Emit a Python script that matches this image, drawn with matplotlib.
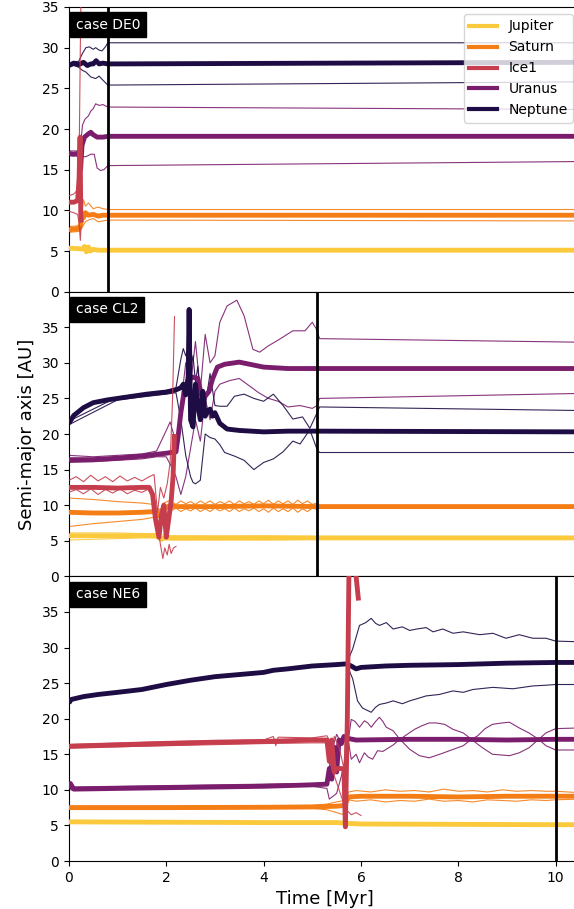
import matplotlib
matplotlib.use("Agg")
import matplotlib.pyplot as plt

# ---------------- data ----------------
planets = ["Jupiter", "Saturn", "Ice1", "Uranus", "Neptune"]
colors = ["#fbc93c", "#f57d15", "#c63d4d", "#7b1d6d", "#1e0c45"]
cases = ["case DE0", "case CL2", "case NE6"]
t_end = [0.8, 5.1, 10.0]
y_top = [35, 40, 40]
T_MAX = 10.5

# case DE0 : semi-major axis (a), aphelion (Q), perihelion (q)
de0_jup_t = [0, 0.15, 0.28, 0.32, 0.36, 0.40, 0.44, 0.5, 0.6, 0.8, 10.5]
de0_jup_a = [5.35, 5.3, 5.25, 5.55, 4.9, 5.5, 5.0, 5.2, 5.1, 5.1, 5.1]

de0_sat_t = [0, 0.12, 0.2, 0.24, 0.27, 0.3, 0.34, 0.4, 0.5, 0.6, 0.7, 0.8, 10.5]
de0_sat_a = [7.6, 7.7, 7.8, 8.2, 9.6, 9.1, 9.7, 9.4, 9.5, 9.3, 9.4, 9.4, 9.4]
de0_sat_tq = [0, 0.2, 0.25, 0.3, 0.34, 0.4, 0.5, 0.6, 0.7, 0.8, 10.5]
de0_sat_Q = [8.0, 8.1, 9.0, 11.3, 10.5, 10.9, 10.2, 10.4, 10.2, 10.1, 10.1]
de0_sat_q = [7.3, 7.4, 7.6, 8.2, 8.6, 8.8, 9.0, 8.6, 8.7, 8.8, 8.7]

de0_ice_t = [0, 0.1, 0.18, 0.21, 0.23, 0.245, 0.26]
de0_ice_a = [11.0, 11.0, 11.2, 14.0, 19.0, 9.0, 8.5]
de0_ice_tq = [0, 0.1, 0.18, 0.21, 0.235, 0.25]
de0_ice_Q = [11.8, 12.0, 12.5, 16.0, 30.0, 37.0]
de0_ice_q = [9.9, 9.7, 9.5, 8.5, 6.3, 8.0]

de0_ura_t = [0, 0.1, 0.18, 0.22, 0.24, 0.27, 0.32, 0.4, 0.45, 0.5, 0.58, 0.7, 0.8, 10.5]
de0_ura_a = [17.0, 16.9, 17.0, 16.5, 15.0, 18.0, 19.0, 19.4, 19.6, 19.3, 19.0, 19.0, 19.1, 19.1]
de0_ura_tQ = [0, 0.18, 0.24, 0.28, 0.33, 0.4, 0.45, 0.5, 0.55, 0.62, 0.7, 0.8, 10.5]
de0_ura_Q = [17.3, 17.3, 18.0, 20.5, 21.2, 21.6, 22.2, 22.5, 23.1, 22.9, 23.0, 22.7, 22.4]
de0_ura_tq = [0, 0.18, 0.24, 0.28, 0.35, 0.45, 0.52, 0.58, 0.65, 0.72, 0.8, 10.5]
de0_ura_q = [16.7, 16.7, 16.0, 16.6, 16.6, 16.9, 16.9, 15.2, 14.9, 15.0, 15.5, 16.0]

de0_nep_t = [0, 0.1, 0.2, 0.3, 0.38, 0.45, 0.5, 0.56, 0.62, 0.7, 0.8, 10.5]
de0_nep_a = [27.8, 28.1, 27.9, 28.2, 27.8, 28.0, 28.0, 28.4, 28.0, 28.1, 28.0, 28.2]
de0_nep_tQ = [0, 0.1, 0.2, 0.28, 0.35, 0.42, 0.5, 0.55, 0.62, 0.68, 0.75, 0.8, 10.5]
de0_nep_Q = [28.0, 28.3, 28.3, 29.3, 30.0, 30.1, 29.8, 30.0, 29.7, 29.6, 30.1, 30.6, 30.6]
de0_nep_tq = [0, 0.1, 0.2, 0.28, 0.35, 0.45, 0.55, 0.62, 0.7, 0.8, 10.5]
de0_nep_q = [27.7, 27.8, 27.6, 27.2, 27.0, 26.4, 26.2, 26.5, 26.0, 25.4, 25.8]

# case CL2
cl2_jup_t = [0, 0.5, 1.0, 1.5, 1.8, 1.9, 2.0, 2.1, 2.5, 3, 4, 5.1, 10.5]
cl2_jup_a = [5.7, 5.7, 5.7, 5.75, 5.7, 5.2, 5.5, 5.4, 5.4, 5.35, 5.4, 5.4, 5.4]
cl2_jup_tq = [0, 0.5, 1.0, 1.5, 1.8, 2.0, 2.5, 3, 4, 5.1, 10.5]
cl2_jup_Q = [6.1, 6.1, 6.1, 6.0, 6.0, 5.7, 5.7, 5.7, 5.7, 5.6, 5.5]
cl2_jup_q = [5.1, 5.2, 5.3, 5.4, 5.4, 5.1, 5.1, 5.2, 5.1, 5.2, 5.3]

cl2_sat_t = [0, 0.5, 1.0, 1.5, 1.75, 1.85, 1.95, 2.05, 2.2, 3, 4, 5.1, 10.5]
cl2_sat_a = [9.0, 8.9, 8.9, 9.0, 9.1, 8.5, 9.4, 9.9, 9.8, 9.8, 9.9, 9.8, 9.8]
cl2_sat_tq = [0, 0.5, 1.0, 1.5, 1.75, 1.85, 1.95, 2.05,
              2.1, 2.2, 2.3, 2.4, 2.5, 2.6, 2.7, 2.8, 2.9, 3.0, 3.1, 3.2, 3.3,
              3.4, 3.5, 3.6, 3.7, 3.8, 3.9, 4.0, 4.1, 4.2, 4.3, 4.4, 4.5, 4.6,
              4.7, 4.8, 4.9, 5.0, 5.1, 5.15, 10.5]
cl2_sat_Q = [11.0, 10.8, 10.5, 10.3, 10.1, 9.0, 10.3, 10.6,
             10.5, 10.1, 10.6, 10.2, 10.5, 10.1, 10.6, 10.2, 10.6, 10.1, 10.5, 10.2, 10.6,
             10.1, 10.6, 10.2, 10.5, 10.1, 10.6, 10.2, 10.7, 10.1, 10.6, 10.2, 10.6, 10.1,
             10.7, 10.2, 10.6, 10.1, 10.3, 9.9, 9.9]
cl2_sat_q = [7.0, 7.4, 7.7, 8.0, 8.3, 9.5, 8.6, 9.2,
             9.2, 9.6, 9.1, 9.5, 9.2, 9.6, 9.1, 9.5, 9.1, 9.6, 9.2, 9.5, 9.1,
             9.6, 9.1, 9.5, 9.2, 9.6, 9.1, 9.5, 9.0, 9.6, 9.1, 9.5, 9.1, 9.6,
             9.0, 9.5, 9.1, 9.6, 9.4, 9.7, 9.7]

cl2_ice_t = [0, 0.5, 1.0, 1.5, 1.65, 1.72, 1.78, 1.85, 1.9, 1.95, 2.0, 2.05, 2.1, 2.14, 2.17]
cl2_ice_a = [12.5, 12.5, 12.4, 12.5, 12.5, 11.5, 8.0, 5.5, 8.5, 10.0, 5.5, 8.0, 10.5, 14.0, 20.0]
cl2_ice_tQ = [0, 0.15, 0.3, 0.45, 0.6, 0.75, 0.9, 1.05, 1.2, 1.35, 1.5, 1.65, 1.75,
              1.82, 1.88, 1.95, 2.02, 2.08, 2.13, 2.17]
cl2_ice_Q = [13.5, 14.0, 13.3, 14.2, 13.4, 14.0, 13.3, 14.1, 13.4, 13.9, 13.4, 14.0, 14.3,
             9.0, 12.5, 11.0, 13.0, 16.0, 25.0, 36.5]
cl2_ice_tq = [0, 0.15, 0.3, 0.45, 0.6, 0.75, 0.9, 1.05, 1.2, 1.35, 1.5, 1.65, 1.75,
              1.82, 1.88, 1.93, 1.97, 2.02, 2.06, 2.1, 2.15, 2.2]
cl2_ice_q = [11.8, 12.2, 11.6, 12.3, 11.5, 12.2, 11.7, 12.3, 11.6, 12.1, 11.8, 12.3, 11.0,
             7.0, 4.5, 2.5, 4.0, 3.0, 4.5, 3.2, 4.0, 4.2]

cl2_ura_t = [0, 0.5, 1.0, 1.5, 2.0, 2.2, 2.25, 2.3, 2.38, 2.45, 2.55, 2.65, 2.72, 2.8,
             2.88, 2.95, 3.05, 3.2, 3.5, 4.0, 4.5, 5.1, 10.5]
cl2_ura_a = [16.4, 16.4, 16.6, 16.9, 17.3, 17.5, 20.0, 23.0, 26.5, 27.5, 28.0, 27.8, 25.5,
             25.3, 26.0, 27.7, 29.4, 29.8, 30.1, 29.4, 29.2, 29.2, 29.2]
cl2_ura_tQ = [0, 0.5, 1.0, 1.5, 1.8, 2.0, 2.08, 2.15, 2.22, 2.3, 2.4, 2.5, 2.6, 2.7, 2.8,
              2.9, 3.0, 3.1, 3.25, 3.45, 3.6, 3.78, 3.92, 4.1, 4.3, 4.6, 4.85, 5.0, 5.08,
              5.15, 10.5]
cl2_ura_Q = [17.0, 16.8, 17.0, 17.2, 17.6, 20.5, 21.7, 20.0, 18.5, 24.0, 30.0, 27.0, 33.0,
             26.0, 34.0, 30.0, 31.0, 35.7, 38.0, 38.8, 36.6, 31.9, 31.5, 32.4, 33.2, 34.5,
             34.5, 35.7, 34.8, 33.4, 32.9]
cl2_ura_tq = [0, 0.5, 1.0, 1.5, 1.8, 2.0, 2.1, 2.2, 2.3, 2.4, 2.5, 2.6, 2.7, 2.8, 2.9,
              3.0, 3.1, 3.3, 3.5, 3.7, 3.9, 4.1, 4.3, 4.5, 4.75, 5.0, 5.1, 5.15, 10.5]
cl2_ura_q = [16.0, 16.1, 16.3, 16.5, 16.8, 16.8, 15.5, 14.0, 11.5, 14.0, 18.0, 22.0, 19.0,
             25.0, 22.0, 26.0, 27.0, 27.5, 27.8, 26.8, 25.8, 25.0, 24.6, 23.8, 24.0, 23.6,
             24.0, 25.0, 25.7]

cl2_nep_t = [0, 0.1, 0.3, 0.5, 0.8, 1.0, 1.3, 1.6, 2.0, 2.2, 2.3, 2.35, 2.4, 2.45, 2.47,
             2.5, 2.55, 2.6, 2.65, 2.7, 2.75, 2.8, 2.85, 2.9, 2.95, 3.0, 3.1, 3.25, 3.5,
             4.0, 4.5, 5.1, 10.5]
cl2_nep_a = [21.5, 22.6, 23.7, 24.4, 24.8, 25.0, 25.3, 25.6, 25.9, 26.2, 26.5, 27.0, 25.5,
             28.0, 37.5, 22.0, 21.0, 27.0, 24.0, 22.0, 26.0, 22.5, 23.2, 23.5, 22.5, 23.0,
             21.5, 20.7, 20.5, 20.3, 20.4, 20.4, 20.3]
cl2_nep_tQ = [0, 1.0, 2.0, 2.2, 2.3, 2.35, 2.4, 2.45, 2.5, 2.55, 2.6, 2.65, 2.7, 2.8, 2.9,
              3.0, 3.1, 3.25, 3.4, 3.6, 3.8, 4.0, 4.2, 4.4, 4.6, 4.8, 4.95, 5.1, 5.15, 10.5]
cl2_nep_Q = [21.8, 25.2, 26.1, 26.5, 30.5, 32.0, 31.0, 32.2, 29.0, 31.0, 27.3, 29.5, 25.0,
             23.9, 28.5, 24.0, 23.9, 23.9, 25.3, 25.6, 25.0, 24.6, 25.6, 24.0, 22.1, 22.4,
             20.8, 23.0, 23.8, 23.3]
cl2_nep_tq = [0, 1.0, 2.0, 2.2, 2.3, 2.4, 2.5, 2.55, 2.6, 2.7, 2.8, 2.9, 3.0, 3.1, 3.2,
              3.4, 3.6, 3.8, 3.9, 4.0, 4.2, 4.4, 4.6, 4.75, 4.95, 5.1, 5.15, 10.5]
cl2_nep_q = [21.3, 24.8, 25.6, 25.8, 22.0, 17.0, 14.0, 13.2, 13.0, 13.5, 20.0, 19.5, 19.3,
             18.5, 17.4, 16.9, 16.3, 15.0, 15.5, 16.0, 16.5, 17.5, 19.0, 18.6, 20.6, 17.8,
             17.4, 17.4]

# case NE6
ne6_jup_t = [0, 2, 4, 5.5, 5.7, 6.0, 8, 10, 10.5]
ne6_jup_a = [5.5, 5.45, 5.4, 5.4, 5.3, 5.2, 5.15, 5.1, 5.1]

ne6_sat_t = [0, 2, 4, 5.0, 5.5, 5.65, 5.75, 6.0, 7, 8, 9, 10, 10.5]
ne6_sat_a = [7.5, 7.5, 7.55, 7.6, 7.7, 7.8, 9.0, 9.1, 9.1, 9.0, 9.1, 9.1, 9.1]
ne6_sat_tq = [0, 5.0, 5.3, 5.5, 5.65, 5.75, 5.9, 6.2, 6.5, 6.8, 7.1, 7.4, 7.7, 8.0, 8.3,
              8.6, 8.9, 9.2, 9.5, 9.8, 10.0, 10.5]
ne6_sat_Q = [7.7, 7.8, 8.0, 8.3, 8.5, 9.7, 9.9, 9.7, 10.0, 9.8, 9.9, 9.7, 10.1, 9.8, 9.9,
             9.7, 10.0, 9.8, 9.9, 9.8, 9.8, 9.6]
ne6_sat_q = [7.3, 7.4, 7.2, 6.8, 6.5, 8.6, 8.4, 8.6, 8.3, 8.5, 8.4, 8.7, 8.4, 8.5, 8.3,
             8.6, 8.5, 8.4, 8.6, 8.5, 8.6, 8.7]

ne6_ice_t = [0, 1, 2, 3, 4, 4.5, 5.0, 5.3, 5.35, 5.4, 5.45, 5.5, 5.6, 5.65, 5.68, 5.72,
             5.76, 5.85, 5.9, 5.95]
ne6_ice_a = [16.1, 16.3, 16.5, 16.7, 16.8, 16.9, 17.0, 17.0, 14.0, 17.0, 12.5, 13.0, 13.0,
             12.8, 4.8, 20.0, 45.0, 48.0, 40.0, 36.6]
ne6_ice_tQ = [0, 2, 4, 4.2, 4.25, 4.3, 5.0, 5.3, 5.35, 5.4, 5.45, 5.55, 5.65, 5.7]
ne6_ice_Q = [16.4, 16.8, 17.0, 17.5, 16.2, 17.4, 17.3, 17.6, 17.0, 15.0, 17.5, 16.0, 13.0, 20.0]
ne6_ice_tq = [0, 2, 4, 5.0, 5.3, 5.4, 5.5, 5.6, 5.7, 5.8, 5.9, 6.0]
ne6_ice_q = [15.9, 16.2, 16.5, 16.6, 16.6, 13.0, 11.0, 9.0, 7.2, 6.5, 6.8, 6.4]

ne6_ura_t = [0, 0.03, 0.1, 1, 2, 3, 4, 5, 5.3, 5.35, 5.4, 5.45, 5.5, 5.55, 5.6, 5.65,
             5.75, 5.9, 7, 8, 9, 10, 10.5]
ne6_ura_a = [10.2, 10.9, 10.1, 10.2, 10.3, 10.4, 10.5, 10.7, 10.8, 13.0, 11.5, 16.0, 12.5,
             17.0, 16.5, 17.5, 17.2, 17.0, 17.1, 17.1, 17.0, 17.1, 17.1]
ne6_ura_tQ = [0, 5.0, 5.3, 5.4, 5.5, 5.6, 5.75, 5.80, 5.88, 5.97, 6.07, 6.14, 6.21, 6.30,
              6.38, 6.45, 6.52, 6.66, 6.80, 6.95, 7.10, 7.25, 7.40, 7.55, 7.72, 7.89, 8.10,
              8.27, 8.40, 8.55, 8.70, 8.90, 9.05, 9.25, 9.45, 9.65, 9.80, 10.0, 10.5]
ne6_ura_Q = [10.4, 10.9, 11.0, 15.5, 17.8, 16.5, 17.5, 19.9, 19.6, 18.8, 19.7, 19.4, 18.8,
             19.6, 20.2, 19.6, 18.8, 18.3, 17.1, 17.8, 18.5, 19.0, 19.4, 19.4, 19.2, 18.5,
             18.0, 17.1, 17.6, 18.6, 19.2, 19.4, 19.5, 18.7, 18.0, 17.1, 18.0, 18.6, 18.7]
ne6_ura_tq = [0, 5.0, 5.3, 5.35, 5.5, 5.6, 5.75, 5.80, 5.90, 5.97, 6.07, 6.15, 6.24, 6.34,
              6.45, 6.52, 6.66, 6.80, 6.90, 7.0, 7.2, 7.4, 7.62, 7.82, 8.1, 8.27, 8.4, 8.5,
              8.7, 9.05, 9.25, 9.45, 9.65, 9.8, 10.0, 10.5]
ne6_ura_q = [10.0, 10.5, 10.2, 8.7, 9.5, 12.0, 16.5, 14.3, 15.0, 13.8, 15.2, 14.6, 14.3,
             15.5, 15.4, 15.7, 16.3, 17.1, 16.4, 15.7, 14.8, 14.5, 15.0, 15.5, 16.2, 17.1,
             16.4, 15.9, 15.0, 14.8, 15.2, 15.9, 17.1, 16.2, 15.6, 15.6]

ne6_nep_t = [0, 0.05, 0.3, 0.6, 1.0, 1.5, 2.0, 2.5, 3.0, 3.5, 4.0, 4.2, 4.5, 5.0, 5.5,
             5.7, 5.8, 5.9, 6.0, 6.5, 7, 8, 9, 10, 10.5]
ne6_nep_a = [22.2, 22.7, 23.1, 23.4, 23.7, 24.1, 24.8, 25.4, 25.9, 26.2, 26.5, 26.8, 27.0,
             27.4, 27.6, 27.7, 27.4, 27.0, 27.2, 27.4, 27.5, 27.6, 27.8, 27.9, 27.9]
ne6_nep_tQ = [5.7, 5.72, 5.83, 5.97, 6.1, 6.21, 6.3, 6.38, 6.52, 6.66, 6.85, 7.0, 7.15,
              7.34, 7.48, 7.68, 7.89, 8.1, 8.44, 8.71, 8.98, 9.25, 9.53, 9.8, 10.0, 10.5]
ne6_nep_Q = [27.7, 28.0, 29.8, 33.1, 33.5, 34.1, 33.4, 33.1, 33.5, 32.6, 32.9, 32.4, 32.6,
             32.8, 32.2, 32.6, 32.0, 32.2, 31.8, 32.0, 31.3, 31.8, 31.3, 31.3, 30.9, 30.8]
ne6_nep_tq = [5.7, 5.72, 5.83, 5.93, 6.03, 6.21, 6.3, 6.38, 6.52, 6.66, 6.85, 7.0, 7.15,
              7.34, 7.61, 7.89, 8.1, 8.3, 8.71, 9.12, 9.53, 9.8, 10.0, 10.5]
ne6_nep_q = [27.7, 27.4, 25.6, 22.5, 21.5, 20.9, 21.6, 22.0, 22.2, 22.5, 22.1, 22.5, 22.8,
             23.2, 23.4, 23.9, 23.7, 24.1, 24.4, 24.2, 24.6, 24.7, 24.8, 24.8]


def thick(ax, t, a, i, z=3):
    ax.plot(t, a, color=colors[i], lw=3.5, zorder=z, solid_capstyle="butt")


def thin(ax, t, v, i, z=2):
    ax.plot(t, v, color=colors[i], lw=0.8, alpha=0.9, zorder=z)


fig, axes = plt.subplots(3, 1, figsize=(5.74, 9.09), dpi=100, sharex=True)
fig.subplots_adjust(left=0.120, right=1.0105, bottom=0.0528, top=0.9923, hspace=0)
ax1, ax2, ax3 = axes

# DE0
thick(ax1, de0_jup_t, de0_jup_a, 0)
thick(ax1, de0_sat_t, de0_sat_a, 1)
thin(ax1, de0_sat_tq, de0_sat_Q, 1)
thin(ax1, de0_sat_tq, de0_sat_q, 1)
thick(ax1, de0_ura_t, de0_ura_a, 3)
thin(ax1, de0_ura_tQ, de0_ura_Q, 3)
thin(ax1, de0_ura_tq, de0_ura_q, 3)
thick(ax1, de0_nep_t, de0_nep_a, 4)
thin(ax1, de0_nep_tQ, de0_nep_Q, 4)
thin(ax1, de0_nep_tq, de0_nep_q, 4)
thick(ax1, de0_ice_t, de0_ice_a, 2, z=4)
thin(ax1, de0_ice_tq, de0_ice_Q, 2, z=4)
thin(ax1, de0_ice_tq, de0_ice_q, 2, z=4)

# CL2
thick(ax2, cl2_jup_t, cl2_jup_a, 0)
thin(ax2, cl2_jup_tq, cl2_jup_Q, 0)
thin(ax2, cl2_jup_tq, cl2_jup_q, 0)
thick(ax2, cl2_sat_t, cl2_sat_a, 1)
thin(ax2, cl2_sat_tq, cl2_sat_Q, 1)
thin(ax2, cl2_sat_tq, cl2_sat_q, 1)
thick(ax2, cl2_ura_t, cl2_ura_a, 3)
thin(ax2, cl2_ura_tQ, cl2_ura_Q, 3)
thin(ax2, cl2_ura_tq, cl2_ura_q, 3)
thick(ax2, cl2_nep_t, cl2_nep_a, 4)
thin(ax2, cl2_nep_tQ, cl2_nep_Q, 4)
thin(ax2, cl2_nep_tq, cl2_nep_q, 4)
thick(ax2, cl2_ice_t, cl2_ice_a, 2, z=4)
thin(ax2, cl2_ice_tQ, cl2_ice_Q, 2, z=4)
thin(ax2, cl2_ice_tq, cl2_ice_q, 2, z=4)

# NE6
thick(ax3, ne6_jup_t, ne6_jup_a, 0)
thick(ax3, ne6_sat_t, ne6_sat_a, 1)
thin(ax3, ne6_sat_tq, ne6_sat_Q, 1)
thin(ax3, ne6_sat_tq, ne6_sat_q, 1)
thick(ax3, ne6_ura_t, ne6_ura_a, 3)
thin(ax3, ne6_ura_tQ, ne6_ura_Q, 3)
thin(ax3, ne6_ura_tq, ne6_ura_q, 3)
thick(ax3, ne6_nep_t, ne6_nep_a, 4)
thin(ax3, ne6_nep_tQ, ne6_nep_Q, 4)
thin(ax3, ne6_nep_tq, ne6_nep_q, 4)
thick(ax3, ne6_ice_t, ne6_ice_a, 2, z=4)
thin(ax3, ne6_ice_tQ, ne6_ice_Q, 2, z=4)
thin(ax3, ne6_ice_tq, ne6_ice_q, 2, z=4)

for ax, name, te, yt in zip(axes, cases, t_end, y_top):
    ax.axvline(te, color="black", lw=2, zorder=6)
    ax.set_ylim(0, yt)
    ax.set_yticks(range(0, 36, 5))
    ax.set_xlim(0, T_MAX)
    ax.tick_params(labelsize=10)
    ax.text(0.014, 0.962, name, transform=ax.transAxes, color="white", fontsize=10,
            va="top", ha="left", zorder=10,
            bbox=dict(boxstyle="square,pad=0.4", facecolor="black", edgecolor="black"))

ax1.tick_params(bottom=False)
ax2.tick_params(bottom=False)
ax3.set_xticks([0, 2, 4, 6, 8, 10])
ax3.set_xlabel("Time [Myr]", fontsize=13)
ax2.set_ylabel("Semi-major axis [AU]", fontsize=13)

handles = [plt.Line2D([], [], color=c, lw=3) for c in colors]
ax1.legend(handles, planets, loc="upper right", fontsize=10)

fig.savefig("out.png", dpi=100)
